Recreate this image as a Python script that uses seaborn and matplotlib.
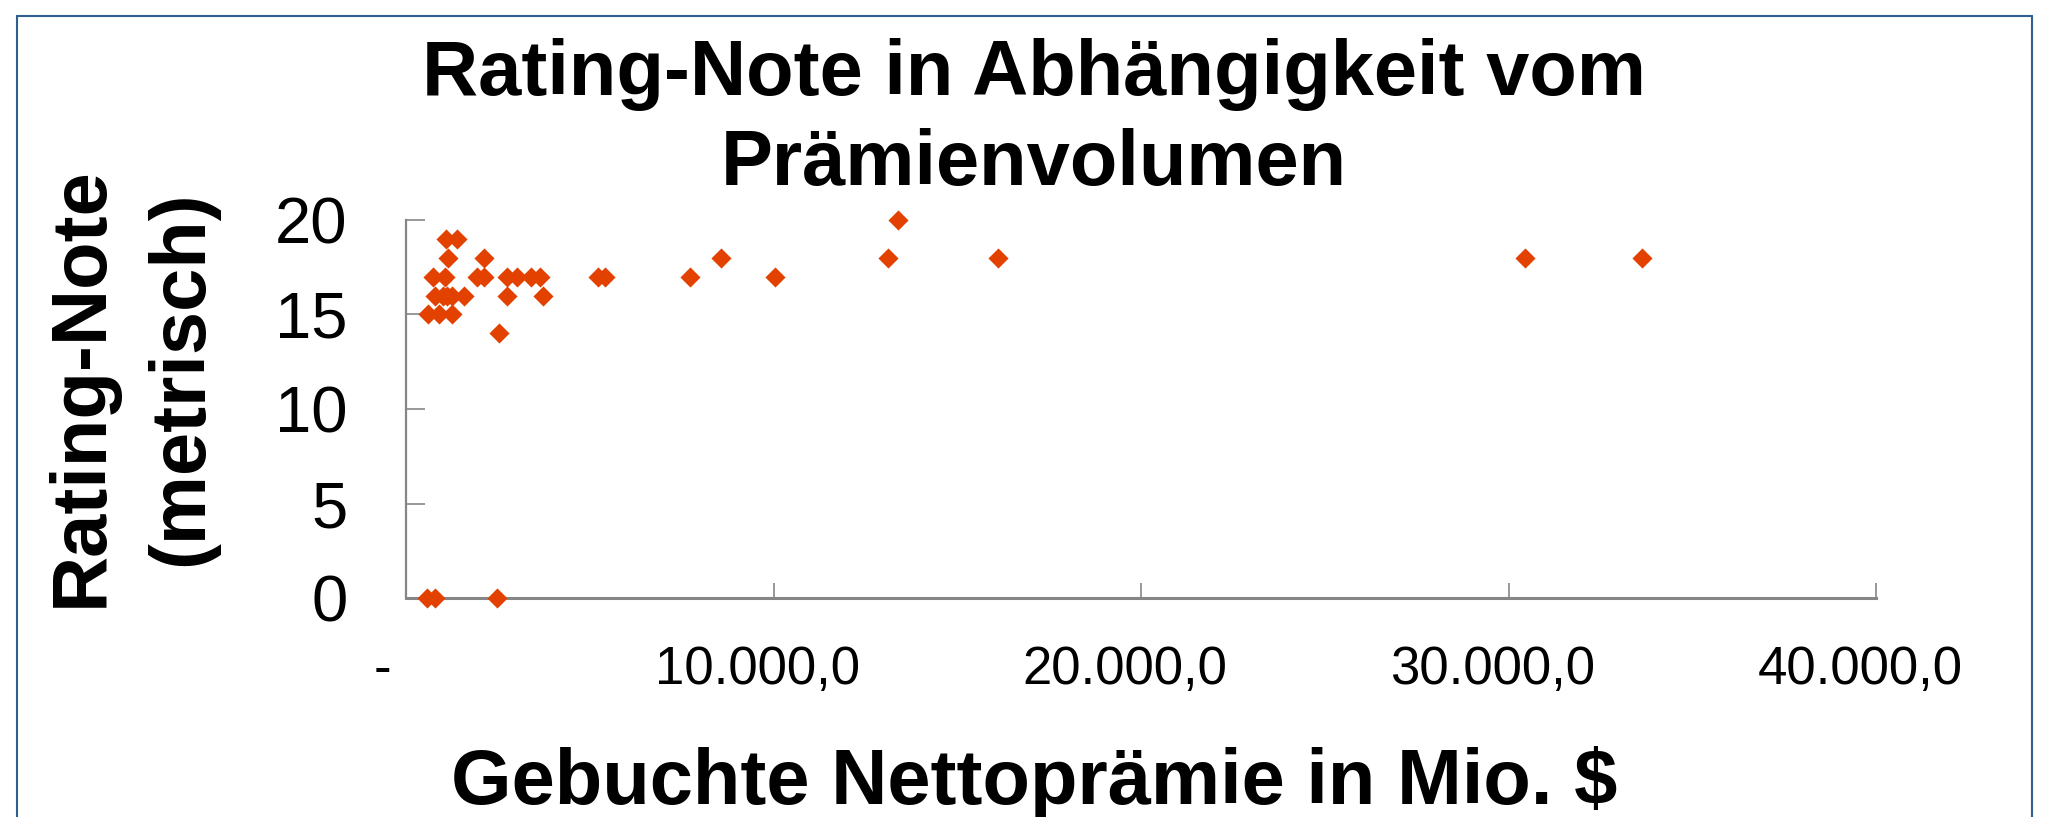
import matplotlib
matplotlib.use("Agg")
import matplotlib.pyplot as plt
from matplotlib.lines import Line2D
from matplotlib.transforms import ScaledTranslation
import pandas as pd
import seaborn as sns

# Gebuchte Nettoprämie (Mio. $) und Rating-Note je Versicherer
premium = [
    1087, 1378,
    1149, 2120,
    742, 1060, 1921, 2120, 2736, 3008, 3389, 3641, 5231, 5413, 7725, 10037,
    788, 1014, 1120, 1242, 1576, 2736, 3731,
    606, 905, 1242,
    2535,
    8568,
    580, 789, 2484,
    13400, 13110, 16100, 30450, 33630,
]
rating = [
    19, 19,
    18, 18,
    17, 17, 17, 17, 17, 17, 17, 17, 17, 17, 17, 17,
    16, 16, 16, 16, 16, 16, 16,
    15, 15, 15,
    14,
    18,
    0, 0, 0,
    20, 18, 18, 18, 18,
]

x_ticks = [0, 10000, 20000, 30000, 40000]
x_tick_labels = ["- ", "10.000,0", "20.000,0", "30.000,0", "40.000,0"]
y_ticks = [0, 5, 10, 15, 20]

TITLE_LINES = ["Rating-Note in Abhängigkeit vom", "Prämienvolumen"]
X_LABEL = "Gebuchte Nettoprämie in Mio. $"
Y_LABEL_LINES = ["Rating-Note", "(metrisch)"]

MARKER_COLOR = "#E34100"
AXIS_COLOR = "#868686"
FRAME_COLOR = "#2E5F8E"

sns.set_theme(style="white")
plt.rcParams["font.family"] = ["Liberation Sans", "DejaVu Sans"]
plt.rcParams["text.color"] = "black"
plt.rcParams["xtick.labelcolor"] = "black"
plt.rcParams["ytick.labelcolor"] = "black"

W, H, DPI = 2068, 817, 100
fig = plt.figure(figsize=(W / DPI, H / DPI), dpi=DPI)

# Achsenbereich in Pixeln der Vorlage
ax_left, ax_right, ax_bottom, ax_top = 406, 1876, 598, 220
ax = fig.add_axes([ax_left / W, 1 - ax_bottom / H, (ax_right - ax_left) / W, (ax_bottom - ax_top) / H])

df = pd.DataFrame({"premium": premium, "rating": rating})
sns.scatterplot(
    data=df, x="premium", y="rating", ax=ax,
    marker="D", s=105, color=MARKER_COLOR, linewidth=0, clip_on=False, zorder=3,
)

ax.set_xlim(0, 40000)
ax.set_ylim(0, 20)
ax.set_xticks(x_ticks, x_tick_labels)
ax.set_yticks(y_ticks)
ax.set_xlabel("")
ax.set_ylabel("")

for side in ["top", "right"]:
    ax.spines[side].set_visible(False)
ax.spines["left"].set_color(AXIS_COLOR)
ax.spines["left"].set_linewidth(1.6)
ax.spines["bottom"].set_color(AXIS_COLOR)
ax.spines["bottom"].set_linewidth(2.2)

ax.tick_params(axis="x", direction="in", length=11, width=1.2, color=AXIS_COLOR,
               labelsize=38, pad=34, bottom=True)
ax.tick_params(axis="y", direction="in", length=14, width=1.2, color=AXIS_COLOR,
               labelsize=47, pad=42, left=True)

# Excel-Zahlenformat: Beschriftungen leicht nach links versetzt
shift = ScaledTranslation(-16 / DPI, 0, fig.dpi_scale_trans)
for label in ax.get_xticklabels():
    label.set_transform(label.get_transform() + shift)

# Titel und Achsentitel (Grundlinien in Pixeln der Vorlage)
for line, base_y in zip(TITLE_LINES, [95, 185]):
    fig.text(0.5, 1 - base_y / H, line, ha="center", va="baseline",
             fontsize=56, fontweight="bold")

for line, base_x, mid_y in zip(Y_LABEL_LINES, [102, 202], [387, 378]):
    fig.text(base_x / W, 1 - mid_y / H, line, ha="center", va="baseline",
             rotation=90, rotation_mode="anchor", fontsize=56, fontweight="bold")

fig.text(0.5, 1 - 804 / H, X_LABEL, ha="center", va="baseline", fontsize=56,
         fontweight="bold")

# Rahmen des Diagrammbereichs (unten abgeschnitten)
fx0, fx1, fy0 = 17 / W, 2032 / W, 1 - 16 / H
for xs, ys in [([fx0, fx1], [fy0, fy0]), ([fx0, fx0], [fy0, 0]), ([fx1, fx1], [fy0, 0])]:
    fig.add_artist(Line2D(xs, ys, transform=fig.transFigure, color=FRAME_COLOR, linewidth=1.5))

fig.savefig("out.png", dpi=DPI)
plt.close(fig)
